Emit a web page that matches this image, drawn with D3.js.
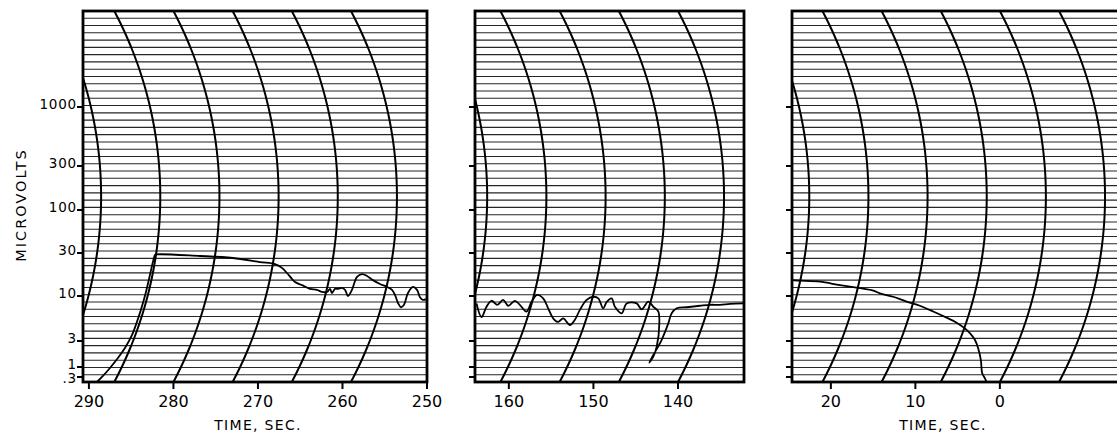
<!DOCTYPE html>
<html><head><meta charset="utf-8">
<script src="https://cdn.jsdelivr.net/npm/d3@7"></script>
<style>body{margin:0;background:#fff}</style>
</head><body>
<svg id="chart" width="1117" height="436"></svg>
<script>
// ---------------- data ----------------
const yTickValues = [0.3, 1, 3, 10, 30, 100, 300, 1000];
const yTickLabels = [".3", "1", "3", "10", "30", "100", "300", "1000"];
const panelTicks = [[290, 280, 270, 260, 250], [160, 150, 140], [20, 10, 0]];
const panelTickLabels = [["290", "280", "270", "260", "250"], ["160", "150", "140"], ["20", "10", "0"]];
const panelDomains = [[290.7, 250.0], [164.0, 132.2], [24.6, -15.4]];
// recorder time arcs (seconds where each pen arc meets the baseline)
const arcTimes = [[294, 287, 280, 273, 266, 259], [168, 161, 154, 147, 140], [28, 21, 14, 7, 0, -7]];
// traces: [time, microvolts]
const trace1 = [[289.05,0.16],[288.34,0.34],[287.51,0.89],[286.57,1.46],[285.74,2.23],[284.91,3.5],[284.32,5.0],
  [283.85,6.9],[283.25,11.1],[282.78,17.1],[282.43,23.8],[282.19,28.5],[282.07,28.9],[276.86,27.8],[272.96,26.4],
  [269.76,23.8],[267.99,22.6],[267.16,20.5],[266.57,18.0],[265.98,15.5],[265.62,14.3],[264.79,13.2],[263.85,12.0],
  [263.02,11.7],[262.43,11.1],[261.83,11.1],[261.48,12.0],[261.24,10.8],[260.89,12.0],[260.53,12.0],[260.06,12.3],
  [259.70,11.7],[259.35,10.0],[258.88,11.7],[258.28,16.3],[257.69,17.5],[257.10,16.7],[256.39,15.0],[255.56,13.6],
  [254.73,12.6],[254.14,11.7],[253.79,10.3],[253.43,8.3],[253.08,7.4],[252.72,7.9],[252.25,10.8],[251.66,12.6],
  [251.18,11.7],[250.83,9.7],[250.47,9.0],[250.12,9.2]];
const trace2 = [[163.82,8.2],[163.23,5.7],[162.64,7.5],[162.05,8.8],[161.38,7.9],[160.67,9.0],[160.08,7.7],
  [159.29,8.8],[158.70,7.9],[157.91,6.6],[157.31,8.6],[156.65,10.3],[155.94,9.4],[155.35,7.2],[154.76,5.5],
  [154.17,5.0],[153.57,5.5],[152.78,4.6],[152.19,5.3],[151.60,6.9],[150.80,9.0],[150.02,9.8],[149.43,9.4],
  [148.84,7.2],[148.44,8.5],[147.85,9.4],[147.46,7.5],[146.66,6.3],[146.07,8.2],[144.89,8.2],[144.30,7.0],
  [143.51,8.6],[142.92,7.5],[142.33,6.6],[142.21,4.8],[142.52,2.36],[142.92,1.55],[143.40,1.2],[142.92,1.66],
  [141.93,3.1],[141.15,4.8],[140.75,6.3],[140.15,7.2],[138.97,7.4],[137.40,7.7],[136.21,7.9],[135.03,7.9],
  [133.85,8.1],[132.27,8.2]];
const trace3 = [[24.62,15.0],[23.67,14.8],[21.30,14.4],[18.93,13.2],[16.57,12.2],[14.99,11.5],[14.20,10.7],
  [12.63,9.8],[11.04,8.6],[9.47,7.7],[7.89,6.6],[6.31,5.6],[5.12,4.9],[4.14,4.2],[3.55,3.7],[2.96,3.1],
  [2.57,2.2],[2.25,1.34],[2.09,0.47],[1.78,0.26],[1.57,0.16]];
const traces = [trace1, trace2, trace3];

// ---------------- layout ----------------
const plotTop = 11, plotBottom = 382;
const frames = [[83, 427], [475, 744], [792, 1130]];
// recorder's compressed amplitude scale (log10 value -> pixel), piecewise
const logStops = [-0.785, Math.log10(0.3), 0, Math.log10(3), 1, Math.log10(30), 2, Math.log10(300), 3, Math.log10(7000)];
const yStops = [382, 377, 367, 341, 296, 253, 210, 166, 107, 11];
const yLin = d3.scaleLinear().domain(logStops).range(yStops).clamp(true);
const yScale = v => yLin(Math.log10(v));
const R = 397, yc = (plotTop + plotBottom) / 2;
const arcShift = y => Math.sqrt(R * R - (y - yc) * (y - yc)) - Math.sqrt(R * R - (plotBottom - yc) * (plotBottom - yc));

const svg = d3.select("#chart");
const font = "'DejaVu Sans', sans-serif";

frames.forEach((fr, i) => {
  const x = d3.scaleLinear().domain(panelDomains[i]).range(fr);
  const g = svg.append("g");
  const clipId = "clip" + i;
  svg.append("clipPath").attr("id", clipId).append("rect")
    .attr("x", fr[0]).attr("y", plotTop).attr("width", fr[1] - fr[0]).attr("height", plotBottom - plotTop);
  const inner = g.append("g").attr("clip-path", `url(#${clipId})`);

  // horizontal chart-paper lines
  const nLines = 51;
  d3.range(1, nLines).forEach(k => {
    const yy = plotTop + k * (plotBottom - plotTop) / nLines;
    inner.append("line").attr("x1", fr[0]).attr("x2", fr[1]).attr("y1", yy).attr("y2", yy)
      .attr("stroke", "#262626").attr("stroke-width", 1.1);
  });

  // time arcs
  const arcLine = d3.line().x(d => d[0]).y(d => d[1]);
  arcTimes[i].forEach(ta => {
    const xb = x(ta);
    const pts = d3.range(plotTop - 2, plotBottom + 3, 2).map(yy => [xb + arcShift(yy), yy]);
    inner.append("path").attr("d", arcLine(pts)).attr("fill", "none")
      .attr("stroke", "#000").attr("stroke-width", 2);
  });

  // trace
  const tl = d3.line().x(d => x(d[0])).y(d => yScale(d[1])).curve(d3.curveCatmullRom.alpha(0.5));
  inner.append("path").attr("d", tl(traces[i])).attr("fill", "none")
    .attr("stroke", "#000").attr("stroke-width", 1.8).attr("stroke-linejoin", "round");

  // frame
  g.append("rect").attr("x", fr[0]).attr("y", plotTop).attr("width", fr[1] - fr[0]).attr("height", plotBottom - plotTop)
    .attr("fill", "none").attr("stroke", "#000").attr("stroke-width", 2.8);

  // y ticks
  yTickValues.forEach((v, k) => {
    const yy = yScale(v);
    g.append("line").attr("x1", fr[0] - 6).attr("x2", fr[0]).attr("y1", yy).attr("y2", yy)
      .attr("stroke", "#000").attr("stroke-width", 2);
    if (i === 0) {
      g.append("text").attr("x", fr[0] - 6).attr("y", yy + (yTickLabels[k] === ".3" ? 6 : 2))
        .attr("text-anchor", "end").attr("font-family", font).attr("font-size", 13.5)
        .attr("letter-spacing", 0.8).text(yTickLabels[k]);
    }
  });

  // x ticks
  panelTicks[i].forEach((t, k) => {
    const xx = x(t);
    g.append("line").attr("x1", xx).attr("x2", xx).attr("y1", plotBottom).attr("y2", plotBottom + 7)
      .attr("stroke", "#000").attr("stroke-width", 2);
    g.append("text").attr("x", xx).attr("y", 407).attr("text-anchor", "middle")
      .attr("font-family", font).attr("font-size", 16).text(panelTickLabels[i][k]);
  });
});

svg.append("text").attr("transform", "translate(21,205) rotate(-90)")
  .attr("text-anchor", "middle").attr("dominant-baseline", "central")
  .attr("font-family", font).attr("font-size", 14.5).attr("letter-spacing", 2).text("MICROVOLTS");
[[258, 430], [943, 430]].forEach(p => {
  svg.append("text").attr("x", p[0]).attr("y", p[1]).attr("text-anchor", "middle")
    .attr("font-family", font).attr("font-size", 14).attr("letter-spacing", 1.3).text("TIME, SEC.");
});
</script>
</body></html>
